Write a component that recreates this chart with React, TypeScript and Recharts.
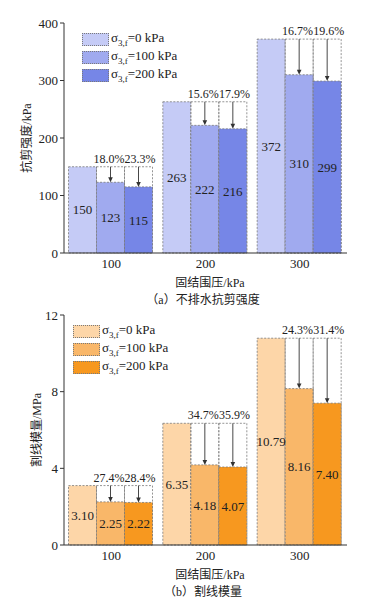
import React from 'react';
import { BarChart, Bar, XAxis, YAxis, LabelList } from 'recharts';

const pressures = ['100', '200', '300'];

// 不排水抗剪强度 / kPa
const strength0 = [150, 263, 372];
const strength100 = [123, 222, 310];
const strength200 = [115, 216, 299];
const strengthDrop100 = ['18.0%', '15.6%', '16.7%'];
const strengthDrop200 = ['23.3%', '17.9%', '19.6%'];
const strengthTicks = [0, 100, 200, 300, 400];

// 割线模量 / MPa
const modulus0 = [3.1, 6.35, 10.79];
const modulus100 = [2.25, 4.18, 8.16];
const modulus200 = [2.22, 4.07, 7.4];
const modulusDrop100 = ['27.4%', '34.7%', '24.3%'];
const modulusDrop200 = ['28.4%', '35.9%', '31.4%'];
const modulusTicks = [0, 4, 8, 12];

const legendNames = ['0 kPa', '100 kPa', '200 kPa'];

const blues = ['#c5cbf6', '#a0aaef', '#7686e7'];
const oranges = ['#fdd6a8', '#f9b769', '#f7981f'];

const FONT = '"Liberation Serif", "DejaVu Serif", "Noto Sans CJK SC", serif';
const DASH = '2 1.5';

const strengthData = pressures.map((p, i) => ({
  p,
  s0: strength0[i],
  s1: strength100[i],
  s2: strength200[i],
  d1: strengthDrop100[i],
  d2: strengthDrop200[i],
}));

const modulusData = pressures.map((p, i) => ({
  p,
  s0: modulus0[i],
  s1: modulus100[i],
  s2: modulus200[i],
  d1: modulusDrop100[i],
  d2: modulusDrop200[i],
}));

const baseShape = (props: any) => {
  const { x, y, width, height, fill } = props;
  return <rect x={x} y={y} width={width} height={height} fill={fill} stroke="#7a7a7a" strokeWidth={0.8} strokeDasharray={DASH} />;
};

// reduced bar: dashed reference box up to the 0 kPa level, arrow and drop label
const makeDropShape = (valueKey: string, dropKey: string, shift: number) => (props: any) => {
  const { x, y, width, height, fill, payload } = props;
  const y0 = y + height;
  const k = height / payload[valueKey];
  const refY = y0 - payload.s0 * k;
  const cx = x + width / 2;
  return (
    <g>
      <rect x={x} y={refY} width={width} height={y0 - refY} fill="none" stroke="#7a7a7a" strokeWidth={0.8} strokeDasharray={DASH} />
      <rect x={x} y={y} width={width} height={height} fill={fill} stroke="#7a7a7a" strokeWidth={0.8} strokeDasharray={DASH} />
      <line x1={cx} y1={refY} x2={cx} y2={y - 4} stroke="#333" strokeWidth={0.9} />
      <polygon points={`${cx - 2.3},${y - 5} ${cx + 2.3},${y - 5} ${cx},${y}`} fill="#333" />
      <text x={cx + shift} y={refY - 4} textAnchor="middle" fontSize={12} fontFamily={FONT} fill="#222">
        {payload[dropKey]}
      </text>
    </g>
  );
};

const shape1 = makeDropShape('s1', 'd1', -1.6);
const shape2 = makeDropShape('s2', 'd2', 1.6);

function Legend({ colors, left, top }: { colors: string[]; left: number; top: number }) {
  return (
    <div style={{ position: 'absolute', left, top, fontFamily: FONT, fontSize: 13, color: '#222' }}>
      {legendNames.map((n, i) => (
        <div key={n} style={{ display: 'flex', alignItems: 'center', height: 18 }}>
          <div style={{ width: 25, height: 11, background: colors[i], border: '1px dotted #7a7a7a', marginRight: 2 }} />
          <span>
            σ<sub style={{ fontSize: 9 }}>3,f</sub>={n}
          </span>
        </div>
      ))}
    </div>
  );
}

function Panel({
  data, colors, domain, ticks, fmt, top, yLabel, yLabelX, xLabel, caption, legendLeft,
}: any) {
  return (
    <div style={{ position: 'absolute', left: 0, top, width: 381, height: 310 }}>
      <BarChart
        width={381}
        height={275}
        data={data}
        margin={{ top: 23, right: 34, left: 0, bottom: 0 }}
        barCategoryGap={4.5}
        barGap={0}
      >
        <XAxis
          dataKey="p"
          tickLine={false}
          tickSize={4}
          height={22}
          axisLine={{ stroke: '#333' }}
          tick={{ fill: '#222', fontSize: 13, fontFamily: FONT }}
        />
        <YAxis
          width={64}
          domain={domain}
          ticks={ticks}
          interval={0}
          tickSize={4}
          axisLine={{ stroke: '#333' }}
          tickLine={{ stroke: '#333' }}
          tick={{ fill: '#222', fontSize: 13, fontFamily: FONT }}
        />
        <Bar dataKey="s0" fill={colors[0]} shape={baseShape} isAnimationActive={false}>
          <LabelList dataKey="s0" position="center" formatter={fmt} style={{ fill: '#222', fontSize: 13, fontFamily: FONT }} />
        </Bar>
        <Bar dataKey="s1" fill={colors[1]} shape={shape1} isAnimationActive={false}>
          <LabelList dataKey="s1" position="center" formatter={fmt} style={{ fill: '#222', fontSize: 13, fontFamily: FONT }} />
        </Bar>
        <Bar dataKey="s2" fill={colors[2]} shape={shape2} isAnimationActive={false}>
          <LabelList dataKey="s2" position="center" formatter={fmt} style={{ fill: '#222', fontSize: 13, fontFamily: FONT }} />
        </Bar>
      </BarChart>
      <Legend colors={colors} left={legendLeft} top={30} />
      <div
        style={{
          position: 'absolute', left: yLabelX - 60, top: 138 - 9, width: 120, textAlign: 'center',
          transform: 'rotate(-90deg)', fontFamily: FONT, fontSize: 12, color: '#222', lineHeight: '18px',
        }}
      >
        {yLabel}
      </div>
      <div style={{ position: 'absolute', left: 110, top: 283 - 9, width: 200, textAlign: 'center', fontFamily: FONT, fontSize: 12, color: '#222', lineHeight: '18px' }}>
        {xLabel}
      </div>
      <div style={{ position: 'absolute', left: 103, top: 300 - 9, width: 200, textAlign: 'center', fontFamily: FONT, fontSize: 12, color: '#222', lineHeight: '18px' }}>
        {caption}
      </div>
    </div>
  );
}

export default function App() {
  return (
    <div style={{ position: 'absolute', left: 0, top: 0, width: 381, height: 601, background: '#fff' }}>
      <Panel
        data={strengthData}
        colors={blues}
        domain={[0, 400]}
        ticks={strengthTicks}
        fmt={(v: number) => `${v}`}
        top={0}
        yLabel="抗剪强度/kPa"
        yLabelX={27}
        xLabel="固结围压/kPa"
        caption="（a）不排水抗剪强度"
        legendLeft={82}
      />
      <Panel
        data={modulusData}
        colors={oranges}
        domain={[0, 12]}
        ticks={modulusTicks}
        fmt={(v: number) => v.toFixed(2)}
        top={292}
        yLabel="割线模量/MPa"
        yLabelX={37}
        xLabel="固结围压/kPa"
        caption="（b）割线模量"
        legendLeft={73}
      />
    </div>
  );
}
